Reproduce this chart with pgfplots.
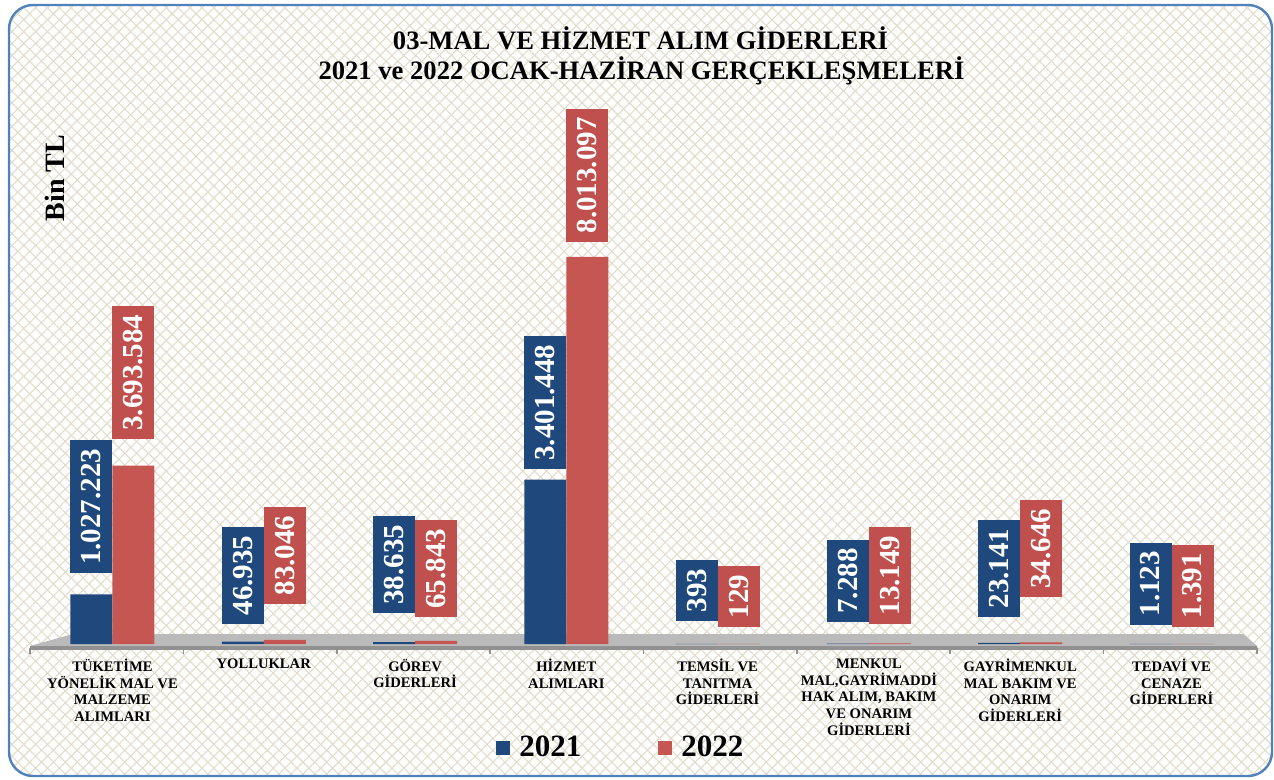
\documentclass[border=0pt]{standalone}
\usepackage{fontspec}
\setmainfont{Liberation Serif}
\usepackage{pgfplots}
\pgfplotsset{compat=1.18}
\usepackage{pgfplotstable}
\usetikzlibrary{patterns.meta}
\definecolor{cblue}{RGB}{31,73,125}
\definecolor{cred}{RGB}{192,80,77}
\definecolor{cbar2}{RGB}{198,86,82}
\definecolor{frame}{RGB}{79,129,189}
\definecolor{hatch}{RGB}{226,220,201}
\definecolor{floorc}{RGB}{186,186,186}
\definecolor{floordk}{RGB}{145,145,145}
\pgfplotsset{sqlegend/.style={legend image code/.code={\fill[##1] (0pt,-3.5pt) rectangle (7pt,3.5pt);}}}

\pgfplotstableread{
x y21 y22 o21 o22
0 1027223 3693584 10.5 13.3
1 46935 83046 8.9 18
2 38635 65843 14.5 11.9
3 3401448 8013097 5.3 7.5
4 393 129 11.5 8.5
5 7288 13149 10.8 9.7
6 23141 34646 13 22.6
7 1123 1391 9.5 8.5
}\datatab

\begin{document}
\begin{tikzpicture}
\begin{scope}[x=0.5pt,y=-0.5pt]
\useasboundingbox (0,0) rectangle (1274,780);
\fill[white, rounded corners=12pt] (9,5) rectangle (1272,776);
\fill[pattern={Lines[angle=45,distance=4.2pt,line width=0.55pt]}, pattern color=hatch, rounded corners=12pt] (9,5) rectangle (1272,776);
\fill[pattern={Lines[angle=-45,distance=4.2pt,line width=0.55pt]}, pattern color=hatch, rounded corners=12pt] (9,5) rectangle (1272,776);
\draw[frame, line width=1.2pt, rounded corners=12pt] (9,5) rectangle (1272,776);
\node[anchor=base, font=\bfseries\fontsize{13.3}{15}\selectfont] at (640.5,50) {03-MAL VE HİZMET ALIM GİDERLERİ};
\node[anchor=base, font=\bfseries\fontsize{13.3}{15}\selectfont] at (641.5,80) {2021 ve 2022 OCAK-HAZİRAN GERÇEKLEŞMELERİ};
\node[rotate=90, font=\bfseries\fontsize{14}{16}\selectfont] at (55,178) {Bin TL};
\fill[floorc] (73,634) -- (1243,634) -- (1257,646) -- (30,646) -- cycle;
\fill[floordk] (30,646) rectangle (1257,650);
\foreach \t in {0,...,8} \draw[floordk, line width=0.8pt] ({30+153.375*\t},648) -- ({30+153.375*\t},654);
\end{scope}
\begin{axis}[
  at={(15pt,-322pt)}, anchor=south west, scale only axis,
  width=613.5pt, height=272pt,
  ymin=0, ymax=11263000, xmin=-0.545, xmax=7.565,
  ybar=0pt, bar width=21pt,
  axis y line=none, axis x line*=bottom, x axis line style={draw=none},
  scaled y ticks=false, ytick=\empty,
  xtick={0,...,7}, major tick length=0pt,
  xticklabels={{TÜKETİME\\YÖNELİK MAL VE\\MALZEME\\ALIMLARI},{YOLLUKLAR},{GÖREV\\GİDERLERİ},{HİZMET\\ALIMLARI},{TEMSİL VE\\TANITMA\\GİDERLERİ},{MENKUL\\MAL,GAYRİMADDİ\\HAK ALIM, BAKIM\\VE ONARIM\\GİDERLERİ},{GAYRİMENKUL\\MAL BAKIM VE\\ONARIM\\GİDERLERİ},{TEDAVİ VE\\CENAZE\\GİDERLERİ}},
  xticklabel style={font=\bfseries\fontsize{7.3}{8.3}\selectfont, align=center, anchor=north, yshift=-4pt},
  clip=false,
  nodes near coords={\pgfmathprintnumber[fixed,precision=0,1000 sep={.},assume math mode=true]{\pgfplotspointmeta}},
  every node near coord/.append style={rotate=90, anchor=west, text=white, font=\bfseries\fontsize{14.5}{16}\selectfont, inner xsep=4.25pt, inner ysep=0pt, minimum height=21pt, outer xsep={(\myoff)*1pt}},
  legend style={at={(0.4845,-0.191)}, anchor=center, draw=none, fill=none, legend columns=2, font=\bfseries\fontsize{15.5}{17}\selectfont, /tikz/every even column/.append style={column sep=34pt}, /tikz/every node/.append style={inner xsep=4.5pt}},
]
\addplot[fill=cblue, draw=none, visualization depends on={\thisrow{o21}\as\myoff}, every node near coord/.append style={fill=cblue}, sqlegend] table[x=x,y=y21]{\datatab};
\addplot[fill=cbar2, draw=none, visualization depends on={\thisrow{o22}\as\myoff}, every node near coord/.append style={fill=cred}, sqlegend] table[x=x,y=y22]{\datatab};
\legend{2021,2022}
\end{axis}
\end{tikzpicture}
\end{document}
